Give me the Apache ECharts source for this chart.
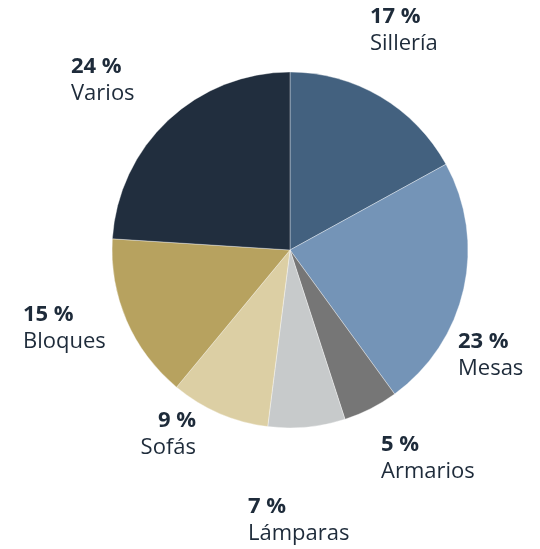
<!DOCTYPE html>
<html>
<head>
<meta charset="utf-8">
<script src="https://cdn.jsdelivr.net/npm/echarts@6/dist/echarts.min.js"></script>
<style>
html,body{margin:0;padding:0;background:#fff;}
#chart{width:540px;height:549px;}
</style>
</head>
<body>
<div id="chart"></div>
<script>
const categories = ['Sillería', 'Mesas', 'Armarios', 'Lámparas', 'Sofás', 'Bloques', 'Varios'];
const values = [17, 23, 5, 7, 9, 15, 24];
const colors = ['#43617f', '#7494b7', '#767676', '#c7cacb', '#dccfa4', '#b7a25f', '#212e3e'];
// label anchor [x, y(top), align]
const labelPos = [
  [370, 3, 'left'],
  [458, 328, 'left'],
  [381, 431, 'left'],
  [248, 493, 'left'],
  [196, 407, 'right'],
  [23, 301, 'left'],
  [71, 53, 'left']
];

const chart = echarts.init(document.getElementById('chart'), null, {renderer: 'canvas'});
const textColor = '#1e2b3a';
const font = '"Open Sans", sans-serif';

chart.setOption({
  animation: false,
  backgroundColor: '#ffffff',
  series: [{
    type: 'pie',
    center: [290, 250],
    radius: [0, 178],
    startAngle: 90,
    clockwise: true,
    avoidLabelOverlap: false,
    itemStyle: { borderColor: 'rgba(255,255,255,0.6)', borderWidth: 0.6 },
    label: {
      show: true,
      position: 'outside',
      formatter: p => '{p|' + p.value + ' %}\n{n|' + p.name + '}',
      rich: {
        p: { fontFamily: font, fontSize: 22, fontWeight: 'bold', color: textColor, lineHeight: 27 },
        n: { fontFamily: font, fontSize: 22, color: textColor, lineHeight: 27 }
      }
    },
    labelLine: { show: false },
    labelLayout: function (params) {
      const lp = labelPos[params.dataIndex];
      return { x: lp[0], y: lp[1], align: lp[2], verticalAlign: 'top', hideOverlap: false };
    },
    data: categories.map((c, i) => ({
      name: c,
      value: values[i],
      itemStyle: { color: colors[i] },
      label: { rich: {
        p: { align: labelPos[i][2] },
        n: { align: labelPos[i][2] }
      } }
    }))
  }]
});
</script>
</body>
</html>
